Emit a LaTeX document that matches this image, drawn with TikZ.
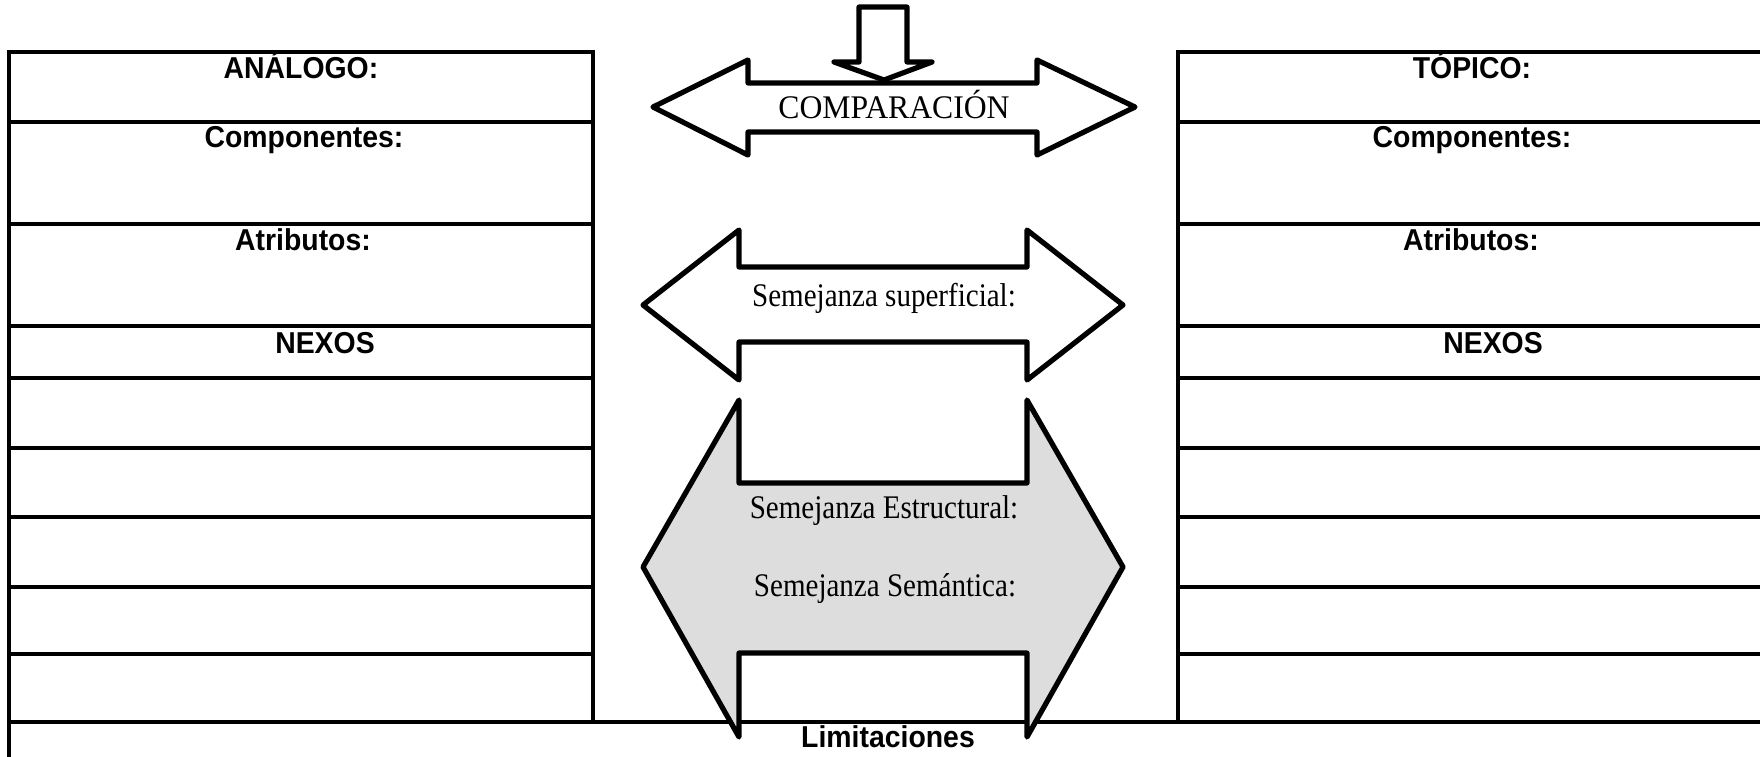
\documentclass[tikz,border=0pt]{standalone}
\usepackage{fontspec}
\setmainfont{Liberation Serif}
\newfontfamily\headfont{Liberation Sans}
\definecolor{ink}{HTML}{000000}
\definecolor{shade}{HTML}{DDDDDD}

\begin{document}
\begin{tikzpicture}[
  x=0.5pt, y=-0.5pt,
  rule/.style={draw=ink, line width=1.6pt},
  blockarrow/.style={draw=ink, line width=2.6pt, line join=round, fill=white},
  rowtitle/.style={font=\headfont\bfseries\fontsize{15.1}{18}\selectfont,
                   inner sep=0pt, anchor=base},
  arrowtext/.style={font=\fontsize{16.5}{19}\selectfont, inner sep=0pt, anchor=base}
]
  \useasboundingbox (0,0) rectangle (1760,756);

  % left table (analogo)
  \draw[rule] (9,780) -- (9,52) -- (593,52) -- (593,722);
  \draw[rule] (9,122) -- (593,122);
  \draw[rule] (9,224) -- (593,224);
  \draw[rule] (9,326) -- (593,326);
  \draw[rule] (9,378) -- (593,378);
  \draw[rule] (9,448) -- (593,448);
  \draw[rule] (9,517) -- (593,517);
  \draw[rule] (9,587) -- (593,587);
  \draw[rule] (9,654) -- (593,654);

  % right table (topico)
  \draw[rule] (1790,52) -- (1178,52) -- (1178,722);
  \draw[rule] (1178,122) -- (1790,122);
  \draw[rule] (1178,224) -- (1790,224);
  \draw[rule] (1178,326) -- (1790,326);
  \draw[rule] (1178,378) -- (1790,378);
  \draw[rule] (1178,448) -- (1790,448);
  \draw[rule] (1178,517) -- (1790,517);
  \draw[rule] (1178,587) -- (1790,587);
  \draw[rule] (1178,654) -- (1790,654);

  % limitaciones row
  \draw[rule] (9,722) -- (1790,722);

  % block arrows
  \draw[blockarrow] (653,107) -- (748,60) -- (748,83) -- (1037,83) -- (1037,60)
    -- (1135,107) -- (1037,155) -- (1037,132) -- (748,132) -- (748,155) -- cycle;
  \draw[blockarrow] (859,7) -- (907,7) -- (907,62) -- (932,62) -- (884,80)
    -- (834,62) -- (859,62) -- cycle;
  \draw[blockarrow] (643,305) -- (739,230) -- (739,267) -- (1027,267) -- (1027,230)
    -- (1123,305) -- (1027,380) -- (1027,342) -- (739,342) -- (739,380) -- cycle;
  \draw[blockarrow, fill=shade] (643,567) -- (739,400) -- (739,483) -- (1027,483)
    -- (1027,400) -- (1123,567) -- (1027,737) -- (1027,653) -- (739,653)
    -- (739,737) -- cycle;

  \node[rowtitle] (analogo) at (301,78) {\scalebox{0.94}[1]{ANÁLOGO:}};
  \node[rowtitle] (compL) at (304,147) {\scalebox{0.94}[1]{Componentes:}};
  \node[rowtitle] (atrL) at (303,250) {\scalebox{0.94}[1]{Atributos:}};
  \node[rowtitle] (nexosL) at (325,353) {\scalebox{0.94}[1]{NEXOS}};

  \node[rowtitle] (topico) at (1472,78) {\scalebox{0.94}[1]{TÓPICO:}};
  \node[rowtitle] (compR) at (1472,147) {\scalebox{0.94}[1]{Componentes:}};
  \node[rowtitle] (atrR) at (1471,250) {\scalebox{0.94}[1]{Atributos:}};
  \node[rowtitle] (nexosR) at (1493,353) {\scalebox{0.94}[1]{NEXOS}};

  \node[arrowtext] (comparacion) at (894,118) {\scalebox{0.96}[1]{COMPARACIÓN}};
  \node[arrowtext] (superficial) at (884,306) {\scalebox{0.88}[1]{Semejanza superficial:}};
  \node[arrowtext] (estructural) at (884,518) {\scalebox{0.88}[1]{Semejanza Estructural:}};
  \node[arrowtext] (semantica) at (885,596) {\scalebox{0.88}[1]{Semejanza Semántica:}};

  \node[rowtitle] (limitaciones) at (888,747) {\scalebox{0.94}[1]{Limitaciones}};
\end{tikzpicture}
\end{document}
